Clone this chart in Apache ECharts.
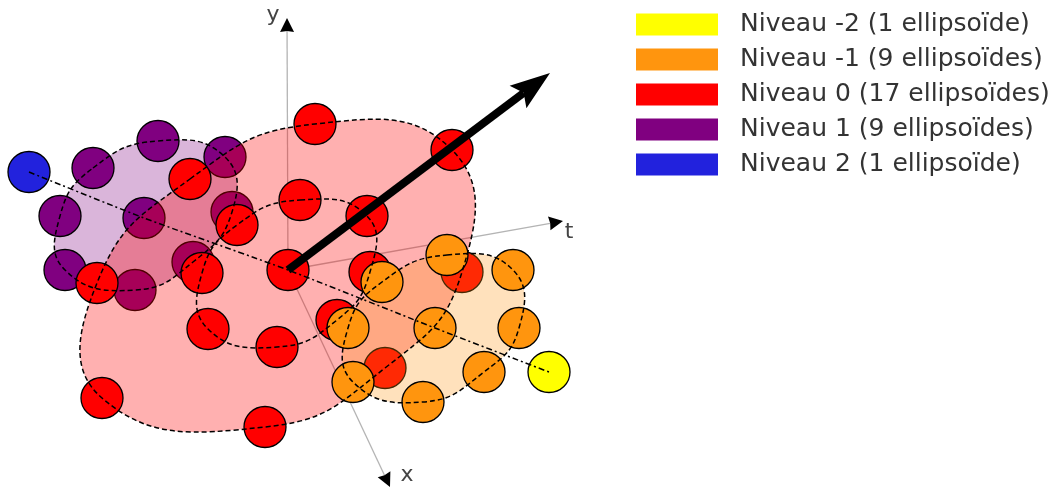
<!DOCTYPE html>
<html><head><meta charset="utf-8">
<script src="https://cdn.jsdelivr.net/npm/echarts@6/dist/echarts.min.js"></script>
<style>html,body{margin:0;padding:0;background:#fff}#c{width:1064px;height:491px}</style>
</head><body><div id="c"></div>
<script>
// Legend names (top to bottom) and colours
const levelNames = ['Niveau -2 (1 ellipsoïde)', 'Niveau -1 (9 ellipsoïdes)', 'Niveau 0 (17 ellipsoïdes)', 'Niveau 1 (9 ellipsoïdes)', 'Niveau 2 (1 ellipsoïde)'];
const levelColors = ['#ffff00', '#ff950e', '#ff0000', '#800080', '#2222dd'];

// Ellipsoid centres in the diagram plane (rings listed in outline order, centre last)
const level2 = [[29, 172]];
const level1 = [[93, 168], [158, 141], [225, 157], [232, 212], [193, 262], [135, 290], [65, 270], [60, 216], [144, 218]];
const level0Outer = [[190, 179], [315, 124], [452, 150], [462, 272], [385, 368], [265, 427], [102, 398], [97, 283]];
const level0Inner = [[300, 200], [367, 216], [370, 272], [337, 320], [277, 347], [208, 329], [202, 273], [237, 225]];
const level0Centre = [[288, 270]];
const levelM1 = [[447, 255], [513, 270], [519, 328], [484, 372], [423, 402], [353, 382], [348, 328], [382, 282], [435, 328]];
const levelM2 = [[549, 372]];

// Axis through the level centres (t direction)
const tPath = [[29, 172], [144, 218], [288, 270], [435, 328], [549, 372]];

// Frame axes: origin, tip, label
const axisNames = ['y', 't', 'x'];
const axisTips = [[287, 18], [563, 221], [390, 487]];
const axisLabelPos = [[273, 15], [569, 232], [407, 475]];
const origin = [288, 270];
// Thick direction arrow
const bigArrowTip = [550, 73];

const level0 = level0Outer.concat(level0Inner, level0Centre);

function ring(arr) { return arr.slice(0, 8); }

function arrowShapes(api, from, to, lw, headLen, headHalf, notch, lineColor, headColor) {
  const p0 = api.coord(from), p1 = api.coord(to);
  const dx = p1[0] - p0[0], dy = p1[1] - p0[1];
  const L = Math.sqrt(dx * dx + dy * dy);
  const ux = dx / L, uy = dy / L, px = -uy, py = ux;
  const bx = p1[0] - ux * headLen, by = p1[1] - uy * headLen;
  const nx = p1[0] - ux * notch, ny = p1[1] - uy * notch;
  return [
    { type: 'line', shape: { x1: p0[0], y1: p0[1], x2: nx, y2: ny }, style: { stroke: lineColor, lineWidth: lw, lineCap: 'butt' } },
    { type: 'polygon', shape: { points: [[p1[0], p1[1]], [bx + px * headHalf, by + py * headHalf], [nx, ny], [bx - px * headHalf, by - py * headHalf]] }, style: { fill: headColor } }
  ];
}

const SMOOTH = 0.48;

function blobSeries(name, pts, fill, z) {
  return {
    type: 'custom', name: name, z: z, silent: true, data: [[0, 0]],
    renderItem: function (params, api) {
      return { type: 'polygon', shape: { points: pts.map(p => api.coord(p)), smooth: SMOOTH }, style: { fill: fill } };
    }
  };
}

function circleSeries(name, data, color, z) {
  return {
    type: 'scatter', name: name, z: z, silent: true, data: data,
    symbol: 'circle', symbolSize: [42, 41],
    itemStyle: { color: color, opacity: 1, borderColor: '#000', borderWidth: 1.3 }
  };
}

const chart = echarts.init(document.getElementById('c'), null, { renderer: 'canvas' });
chart.setOption({
  animation: false,
  backgroundColor: '#fff',
  grid: { left: 0, right: 0, top: 0, bottom: 0 },
  xAxis: { type: 'value', min: 0, max: 1064, show: false },
  yAxis: { type: 'value', min: 0, max: 491, inverse: true, show: false },
  legend: {
    data: levelNames, orient: 'vertical', left: 636, top: 12, padding: 0,
    icon: 'rect', itemWidth: 82, itemHeight: 22, itemGap: 10,
    itemStyle: { borderWidth: 0 },
    selectedMode: false,
    textStyle: { fontFamily: 'DejaVu Sans', fontSize: 25, color: '#333', lineHeight: 22, padding: [0, 0, 0, 17] }
  },
  series: [
    // thin frame axes
    {
      type: 'custom', name: 'axes', z: 1, silent: true, data: axisTips,
      renderItem: function (params, api) {
        const tip = axisTips[params.dataIndex];
        return { type: 'group', children: arrowShapes(api, origin, tip, 1.3, 14, 7, 13, '#b4b4b4', '#000') };
      }
    },
    blobSeries('blob1', ring(level1), 'rgba(128,0,128,0.29)', 2),
    circleSeries(levelNames[3], level1, levelColors[3], 3),
    circleSeries(levelNames[4], level2, levelColors[4], 3),
    blobSeries('blob0', level0Outer, 'rgba(255,0,0,0.31)', 4),
    circleSeries(levelNames[2], level0, levelColors[2], 5),
    blobSeries('blobM1', ring(levelM1), 'rgba(255,149,14,0.28)', 6),
    circleSeries(levelNames[1], levelM1, levelColors[1], 7),
    circleSeries(levelNames[0], levelM2, levelColors[0], 7),
    // dashed outlines of the rings
    {
      type: 'custom', name: 'rings', z: 8, silent: true, data: [[0], [1], [2], [3]],
      renderItem: function (params, api) {
        const rings = [ring(level1), level0Outer, level0Inner, ring(levelM1)];
        const pts = rings[params.dataIndex].map(p => api.coord(p));
        return { type: 'polygon', shape: { points: pts, smooth: SMOOTH }, style: { fill: 'none', stroke: '#000', lineWidth: 1.5, lineDash: [5, 3] } };
      }
    },
    {
      type: 'custom', name: 'tpath', z: 8, silent: true, data: [[0, 0]],
      renderItem: function (params, api) {
        return { type: 'polyline', shape: { points: tPath.map(p => api.coord(p)), smooth: 0.2 }, style: { fill: 'none', stroke: '#000', lineWidth: 1.5, lineDash: [6, 3, 2, 3] } };
      }
    },
    // big arrow
    {
      type: 'custom', name: 'bigArrow', z: 9, silent: true, data: [[0, 0]],
      renderItem: function (params, api) {
        return { type: 'group', children: arrowShapes(api, origin, bigArrowTip, 8, 40, 14, 33, '#000', '#000') };
      }
    },
    // axis names
    {
      type: 'custom', name: 'axisNames', z: 9, silent: true, data: axisLabelPos,
      renderItem: function (params, api) {
        const p = api.coord(axisLabelPos[params.dataIndex]);
        return { type: 'text', x: p[0], y: p[1], style: { text: axisNames[params.dataIndex], fontFamily: 'DejaVu Sans', fontSize: 22, fill: '#444', align: 'center', verticalAlign: 'middle' } };
      }
    }
  ]
});
</script></body></html>
